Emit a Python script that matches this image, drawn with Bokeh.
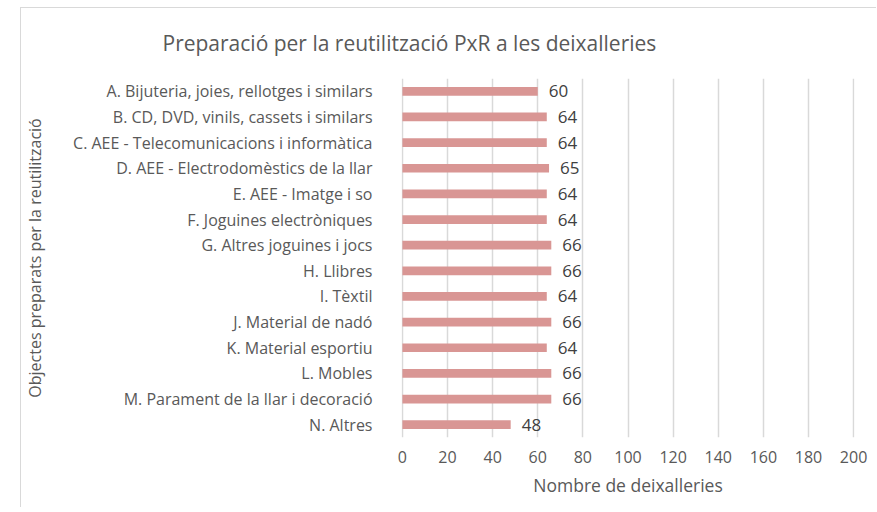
from bokeh.plotting import figure
from bokeh.models import FactorRange, Range1d, ColumnDataSource, FixedTicker, Title
from bokeh.embed import file_html
from bokeh.resources import INLINE
from bokeh.core.properties import value

categories = [
    "A. Bijuteria, joies, rellotges i similars",
    "B. CD, DVD, vinils, cassets i similars",
    "C. AEE - Telecomunicacions i informàtica",
    "D. AEE - Electrodomèstics de la llar",
    "E. AEE - Imatge i so",
    "F. Joguines electròniques",
    "G. Altres joguines i jocs",
    "H. Llibres",
    "I. Tèxtil",
    "J. Material de nadó",
    "K. Material esportiu",
    "L. Mobles",
    "M. Parament de la llar i decoració",
    "N. Altres",
]
values = [60, 64, 64, 65, 64, 64, 66, 66, 64, 66, 64, 66, 66, 48]
x_ticks = [0, 20, 40, 60, 80, 100, 120, 140, 160, 180, 200]

title_text = "Preparació per la reutilització PxR a les deixalleries"
x_title = "Nombre de deixalleries"
y_title = "Objectes preparats per la reutilització"

FONT = "Open Sans"
GRAY = "#595959"

src = ColumnDataSource(dict(cat=categories, val=values, lbl=[str(v) for v in values]))

p = figure(
    width=856, height=500,
    y_range=FactorRange(*reversed(categories)),
    x_range=Range1d(-0.4, 200.4),
    output_backend="svg", toolbar_location=None,
    min_border_left=380, min_border_right=23, min_border_top=70, min_border_bottom=71,
    styles={"margin-left": "20px", "margin-top": "7px",
            "border-top": "1px solid #D9D9D9", "border-left": "1px solid #D9D9D9"},
)
p.outline_line_color = None
p.background_fill_color = "white"
p.border_fill_color = "white"

p.hbar(y="cat", right="val", left=0, height=0.34, source=src,
       fill_color="#D99694", line_color=None)
p.text(x="val", y="cat", text="lbl", source=src, x_offset=11,
       text_baseline="middle", text_align="left", text_color="#404040",
       text_font=value(FONT), text_font_size="17px")

p.xaxis.ticker = FixedTicker(ticks=x_ticks)
p.xgrid.ticker = FixedTicker(ticks=x_ticks)
p.xgrid.grid_line_color = "#D9D9D9"
p.xgrid.grid_line_width = 1.5
p.ygrid.grid_line_color = None

for ax in (p.xaxis[0], p.yaxis[0]):
    ax.axis_line_color = None
    ax.major_tick_line_color = None
    ax.minor_tick_line_color = None
    ax.major_label_text_color = GRAY
    ax.major_label_text_font = FONT
    ax.major_label_text_font_size = "16px"
    ax.axis_label_text_color = GRAY
    ax.axis_label_text_font = FONT
    ax.axis_label_text_font_style = "normal"

p.xaxis.axis_label = x_title
p.xaxis.axis_label_text_font_size = "17.5px"
p.xaxis.major_label_standoff = 7
p.xaxis.axis_label_standoff = 7
p.yaxis.axis_label = y_title
p.yaxis.axis_label_text_font_size = "16px"
p.yaxis.major_label_standoff = 23
p.yaxis.axis_label_standoff = 24

p.title.visible = False
p.add_layout(Title(text=title_text, align="left", offset=-239, text_font=FONT,
                   text_font_size="21px", text_font_style="normal",
                   text_color=GRAY, standoff=40, vertical_align="top"), "above")

open("out.html", "w").write(file_html(p, INLINE))
